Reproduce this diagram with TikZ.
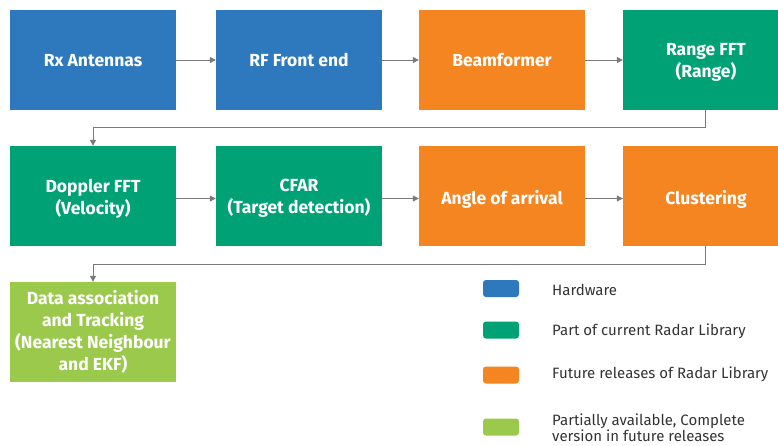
\documentclass[tikz,border=0pt]{standalone}
\usepackage{fontspec}
\setmainfont{Fira Sans}
\usetikzlibrary{arrows.meta}
\definecolor{hw}{HTML}{2E78BE}
\definecolor{cur}{HTML}{00A275}
\definecolor{fut}{HTML}{F58520}
\definecolor{part}{HTML}{9AC94B}
\definecolor{ln}{HTML}{7A7A7A}
\definecolor{lt}{HTML}{333333}
\begin{document}
\begin{tikzpicture}[x=1pt,y=-1pt,
  blk/.style={minimum width=166pt,minimum height=100pt,inner sep=0pt},
  txt/.style={inner sep=0pt,text=white,align=center,font=\fontsize{17.5}{22}\selectfont\bfseries},
  sw/.style={rounded corners=3pt,minimum width=36pt,minimum height=17pt,inner sep=0pt},
  lg/.style={anchor=west,text=lt,align=left,font=\fontsize{15}{16}\selectfont,inner sep=0pt},
  con/.style={draw=ln,line width=1pt,-{Triangle[length=6pt,width=6pt]}}]
\useasboundingbox (0,0) rectangle (778,445);
\node[blk,fill=hw] (a) at (93,60) {};
\node[blk,fill=hw] (b) at (299,60) {};
\node[blk,fill=fut] (c) at (502,60) {};
\node[blk,fill=cur] (d) at (706,60) {};
\node[blk,fill=cur] (e) at (93,196) {};
\node[blk,fill=cur] (f) at (299,196) {};
\node[blk,fill=fut] (g) at (502,196) {};
\node[blk,fill=fut] (h) at (706,196) {};
\node[blk,fill=part] (i) at (93,332) {};
\node[txt] (at) at ([yshift=-0.5]a.center) {Rx Antennas};
\node[txt] (bt) at ([yshift=-0.5]b.center) {RF Front end};
\node[txt] (ct) at ([yshift=-0.5]c.center) {Beamformer};
\node[txt] (dt) at ([yshift=-2.5]d.center) {Range FFT\\(Range)};
\node[txt] (et) at ([yshift=-2.5]e.center) {Doppler FFT\\(Velocity)};
\node[txt] (ft) at ([yshift=-2.5]f.center) {CFAR\\(Target detection)};
\node[txt] (gt) at ([yshift=-3]g.center) {Angle of arrival};
\node[txt] (ht) at ([yshift=-3]h.center) {Clustering};
\node[txt] (it) at ([yshift=0]i.center) {Data association\\and Tracking\\(Nearest Neighbour\\and EKF)};
\coordinate (k1) at (705,127.5);
\coordinate (k2) at (705,264);
\draw[con] (a) -- (b);
\draw[con] (b) -- (c);
\draw[con] (c) -- (d);
\draw[con] ([yshift=-2.5]e.east) -- ([yshift=-2.5]f.west);
\draw[con] ([yshift=-2.5]f.east) -- ([yshift=-2.5]g.west);
\draw[con] ([yshift=-2.5]g.east) -- ([yshift=-2.5]h.west);
\draw[con] (d.south -| k1) -- (k1) -| (e.north);
\draw[con] (h.south -| k2) -- (k2) -| (i.north);
\node[sw,fill=hw] (s1) at (501,288.5) {};
\node[sw,fill=cur] (s2) at (501,330) {};
\node[sw,fill=fut] (s3) at (501,375) {};
\node[sw,fill=part] (s4) at (501,427) {};
\node[lg] (t1) at (552,290) {Hardware};
\node[lg] (t2) at (552,331) {Part of current Radar Library};
\node[lg] (t3) at (552,374) {Future releases of Radar Library};
\node[lg] (t4) at (552,428) {Partially available, Complete\\version in future releases};
\end{tikzpicture}
\end{document}
